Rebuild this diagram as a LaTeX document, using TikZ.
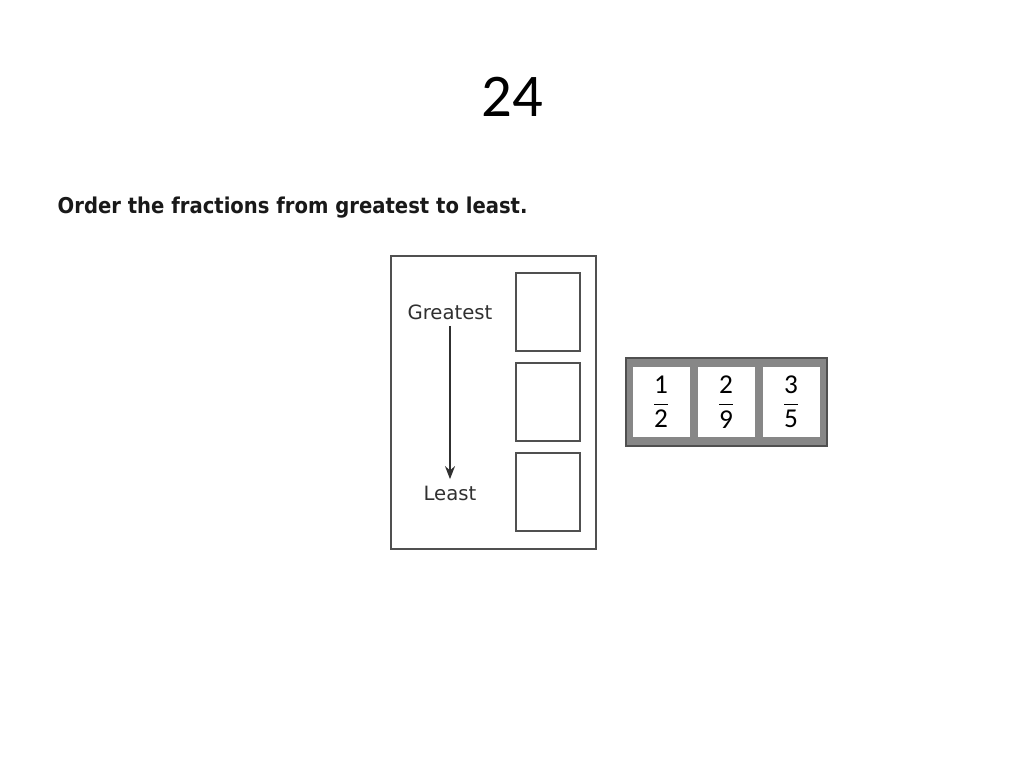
\documentclass[tikz,border=0pt]{standalone}
\usepackage{fontspec}
\setmainfont{Carlito}
\newfontfamily\verd{DejaVu Sans}
\usetikzlibrary{positioning,arrows.meta}
\definecolor{framegray}{HTML}{505050}
\definecolor{fillgray}{HTML}{878787}
\definecolor{textgray}{HTML}{303030}
\newcommand{\fr}[2]{$\displaystyle\frac{\hbox{#1}}{\hbox{#2}}$}

\begin{document}
\begin{tikzpicture}[>={Stealth[length=2.6mm,width=2mm]},node distance=1.8cm,thick,
  ans box/.style={rectangle,draw=framegray,line width=1.1pt,minimum width=1.28cm,minimum height=1.56cm},
  frac cell/.style={rectangle,fill=white,minimum width=1.14cm,minimum height=1.4cm,inner sep=0pt,
    font=\fontsize{15.5}{18}\selectfont},
  word/.style={font=\verd\fontsize{11.2}{13}\selectfont,text=textgray}]

  \useasboundingbox (0,0) rectangle (20.48,15.36);

  \node (num) at (10.24,13.42) {\fontsize{34.5}{40}\selectfont 24};
  \node[anchor=base west,inner sep=0pt,text=black!90] (task) at (1.14,11.08)
    {\scalebox{0.9}[1]{\verd\bfseries\fontsize{12.4}{15}\selectfont Order the fractions from greatest to least.}};

  % answer frame
  \node[draw=framegray,line width=1.1pt,minimum width=4.1cm,minimum height=5.86cm] (frame) at (9.87,7.31) {};
  \node[ans box] (b1) at (10.96,9.12) {};
  \node[ans box] (b2) [below of=b1] {};
  \node[ans box] (b3) [below of=b2] {};
  \node[word] (great) at (9.0,9.12) {Greatest};
  \node[word] (least) at (9.0,5.5) {Least};
  \draw[->,line width=0.9pt,textgray] (great) -- (least);

  % fraction tiles
  \node[draw=framegray,line width=1.1pt,fill=fillgray,minimum width=4.02cm,minimum height=1.76cm] (tray) at (14.53,7.32) {};
  \begin{scope}[node distance=1.3cm]
    \node[frac cell] (c1) at (13.22,7.32) {\fr{1}{2}};
    \node[frac cell] (c2) [right of=c1] {\fr{2}{9}};
    \node[frac cell] (c3) [right of=c2] {\fr{3}{5}};
  \end{scope}
\end{tikzpicture}
\end{document}
